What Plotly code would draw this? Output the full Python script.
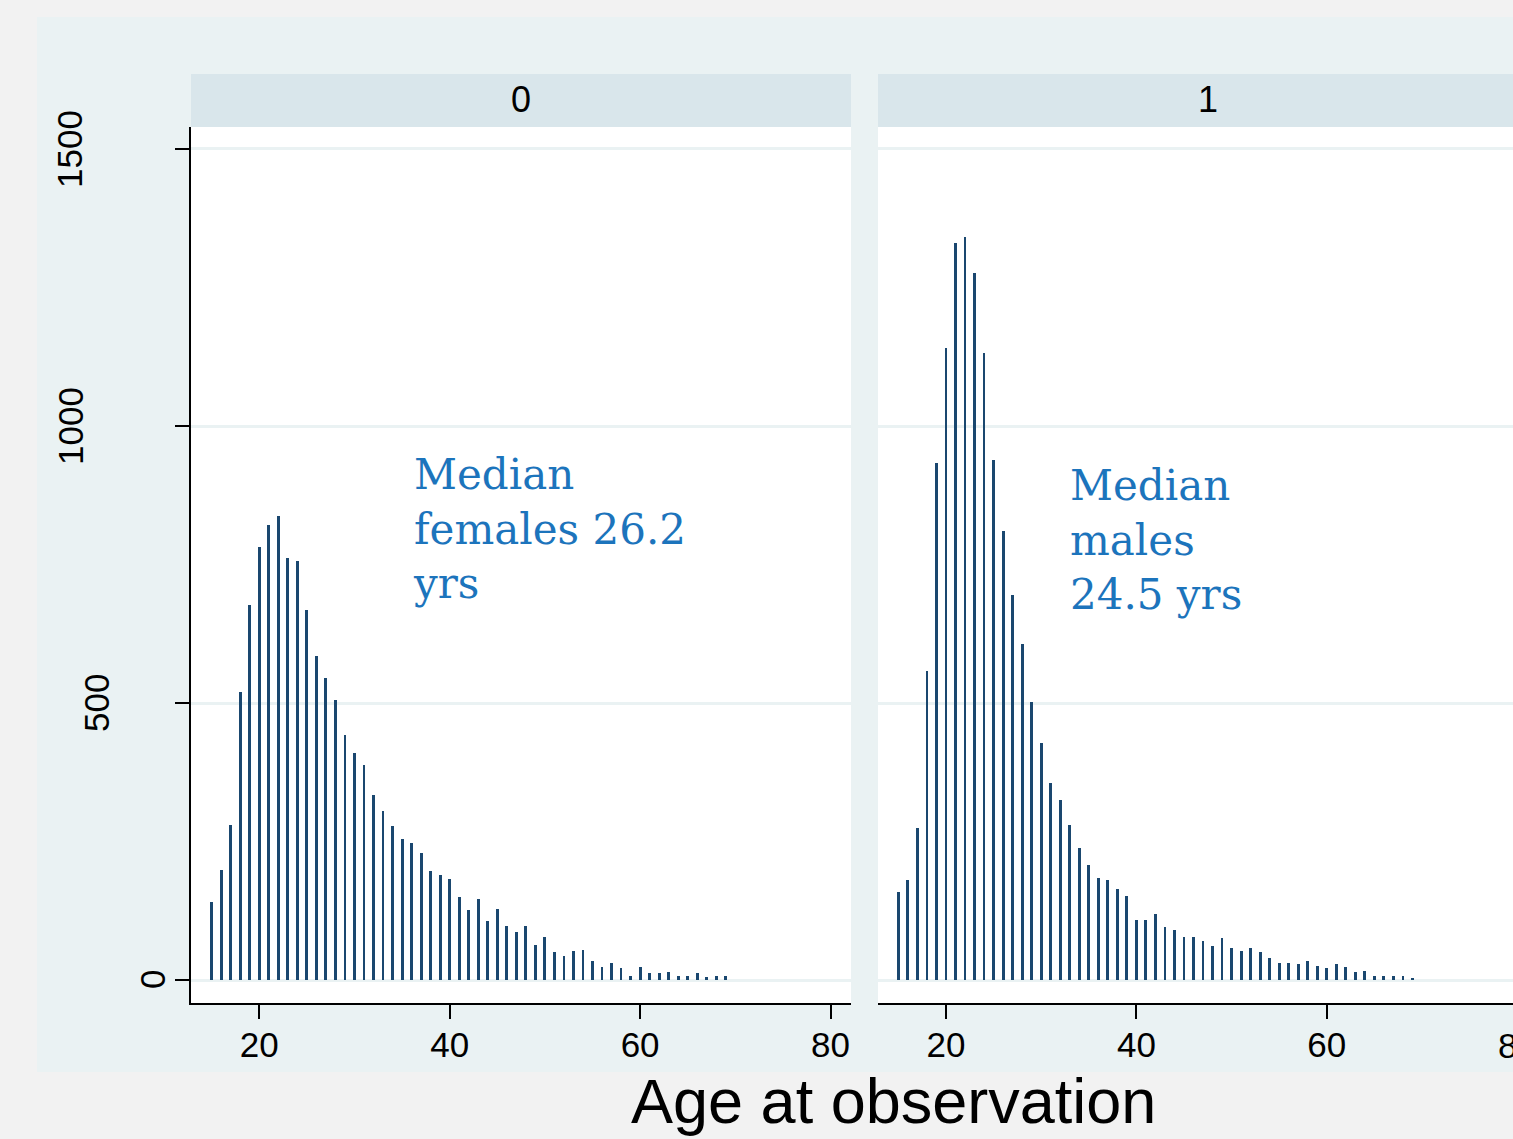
import plotly.graph_objects as go

W, H = 1513, 1139

ages = list(range(15, 70))
females = [140, 199, 280, 519, 677, 781, 821, 837, 761, 756, 668, 585, 546, 505, 443,
           409, 388, 334, 305, 278, 255, 248, 230, 196, 189, 182, 149, 126, 146, 106,
           129, 97, 86, 97, 64, 77, 50, 43, 52, 55, 34, 23, 30, 21, 8, 23, 13, 13, 14,
           8, 8, 13, 5, 7, 8]
males = [158, 180, 274, 558, 934, 1141, 1330, 1341, 1277, 1132, 939, 811, 695, 606, 502,
         427, 356, 325, 280, 239, 207, 185, 180, 164, 151, 108, 108, 120, 95, 91,
         77, 77, 70, 61, 75, 57, 52, 57, 50, 39, 30, 30, 29, 34, 25, 22, 29, 23, 14,
         16, 7, 7, 7, 7, 4]
panel_labels = ["0", "1"]
median_texts = ["Median<br>females 26.2<br>yrs", "Median<br>males<br>24.5 yrs"]
x_ticks = [20, 40, 60, 80]
y_ticks = [0, 500, 1000, 1500]
x_title = "Age at observation"

SPIKE = "#1a476f"
GRID = "#eaf2f3"
OUTER = "#eaf2f3"
STRIP = "#d9e6eb"
PAGE = "#f2f2f2"
TXT_BLUE = "#1c74bc"
SANS = "Liberation Sans, Arial, sans-serif"
SERIF = "DejaVu Serif, Georgia, serif"


def px(x):
    return x / W


def py(y):
    return 1 - y / H


fig = go.Figure()
fig.add_trace(go.Bar(x=ages, y=females, width=0.3, marker=dict(color=SPIKE, line=dict(width=0)),
                     xaxis="x", yaxis="y", showlegend=False))
fig.add_trace(go.Bar(x=ages, y=males, width=0.3, marker=dict(color=SPIKE, line=dict(width=0)),
                     xaxis="x2", yaxis="y2", showlegend=False))

p0 = (191, 851)
p1 = (878, 1513)
plot_top, plot_bot = 127, 1003
strip_top = 74

xcommon = dict(tickvals=x_ticks, ticks="outside", ticklen=14, tickwidth=2, tickcolor="black",
               showline=True, linecolor="black", linewidth=2, showgrid=False, zeroline=False,
               ticklabelstandoff=-4,
               tickfont=dict(family=SANS, size=35, color="black"))
ycommon = dict(range=[-41.5, 1539.7], tickvals=y_ticks, showgrid=True, gridcolor=GRID, gridwidth=3,
               zeroline=False, domain=[py(plot_bot), py(plot_top)])

fig.update_layout(
    width=W, height=H,
    margin=dict(l=0, r=0, t=0, b=0),
    paper_bgcolor=OUTER, plot_bgcolor="white",
    bargap=0,
    xaxis=dict(xcommon, domain=[px(p0[0]), px(p0[1])], range=[12.83, 82.15], anchor="y"),
    xaxis2=dict(xcommon, domain=[px(p1[0]), 1], range=[12.86, 79.56], anchor="y2"),
    yaxis=dict(ycommon, anchor="x", showticklabels=False, ticks="outside", ticklen=14, tickwidth=2,
               tickcolor="black", showline=True, linecolor="black", linewidth=2),
    yaxis2=dict(ycommon, anchor="x2", showticklabels=False, ticks="", showline=False, matches="y"),
)

shapes = [
    dict(type="rect", xref="paper", yref="paper", x0=0, x1=px(37), y0=0, y1=1,
         fillcolor=PAGE, line=dict(width=0), layer="below"),
    dict(type="rect", xref="paper", yref="paper", x0=0, x1=1, y0=py(17), y1=1,
         fillcolor=PAGE, line=dict(width=0), layer="below"),
    dict(type="rect", xref="paper", yref="paper", x0=0, x1=1, y0=0, y1=py(1072),
         fillcolor=PAGE, line=dict(width=0), layer="below"),
    dict(type="rect", xref="paper", yref="paper", x0=px(p0[0]), x1=px(p0[1]), y0=py(plot_top), y1=py(strip_top),
         fillcolor=STRIP, line=dict(width=0), layer="below"),
    dict(type="rect", xref="paper", yref="paper", x0=px(p1[0]), x1=1, y0=py(plot_top), y1=py(strip_top),
         fillcolor=STRIP, line=dict(width=0), layer="below"),
]
fig.update_layout(shapes=shapes)

ann = []
for lab, cx in zip(panel_labels, [521, 1208]):
    ann.append(dict(text=lab, xref="paper", yref="paper", x=px(cx), y=py(100), xanchor="center",
                    yanchor="middle", showarrow=False, font=dict(family=SANS, size=36, color="black")))
ylab_x = {4: 70, 3: 96, 1: 152}
for v in y_ticks:
    s = str(v)
    ann.append(dict(text=s, xref="paper", yref="y", x=px(ylab_x[len(s)]), y=v, xanchor="center",
                    yanchor="middle", textangle=-90, showarrow=False,
                    font=dict(family=SANS, size=35, color="black")))
# tick label "80" of the second panel, cut by the right edge as in the reference
ann.append(dict(text="80", xref="paper", yref="paper", x=px(1517), y=py(1045), xanchor="center",
                yanchor="middle", showarrow=False, font=dict(family=SANS, size=35, color="black")))
for t, (lx, ty) in zip(median_texts, [(411, 448), (1068, 459)]):
    ann.append(dict(text=t, xref="paper", yref="paper", x=px(lx), y=py(ty), xanchor="left", yanchor="top",
                    align="left", showarrow=False, font=dict(family=SERIF, size=42, color=TXT_BLUE)))
ann.append(dict(text=x_title, xref="paper", yref="paper", x=px(893), y=py(1101), xanchor="center",
                yanchor="middle", showarrow=False, font=dict(family=SANS, size=63, color="black")))
fig.update_layout(annotations=ann)

fig.write_html("out.html", config={"displayModeBar": False},
               post_script="document.body.style.margin='0';document.body.style.overflow='hidden';")
